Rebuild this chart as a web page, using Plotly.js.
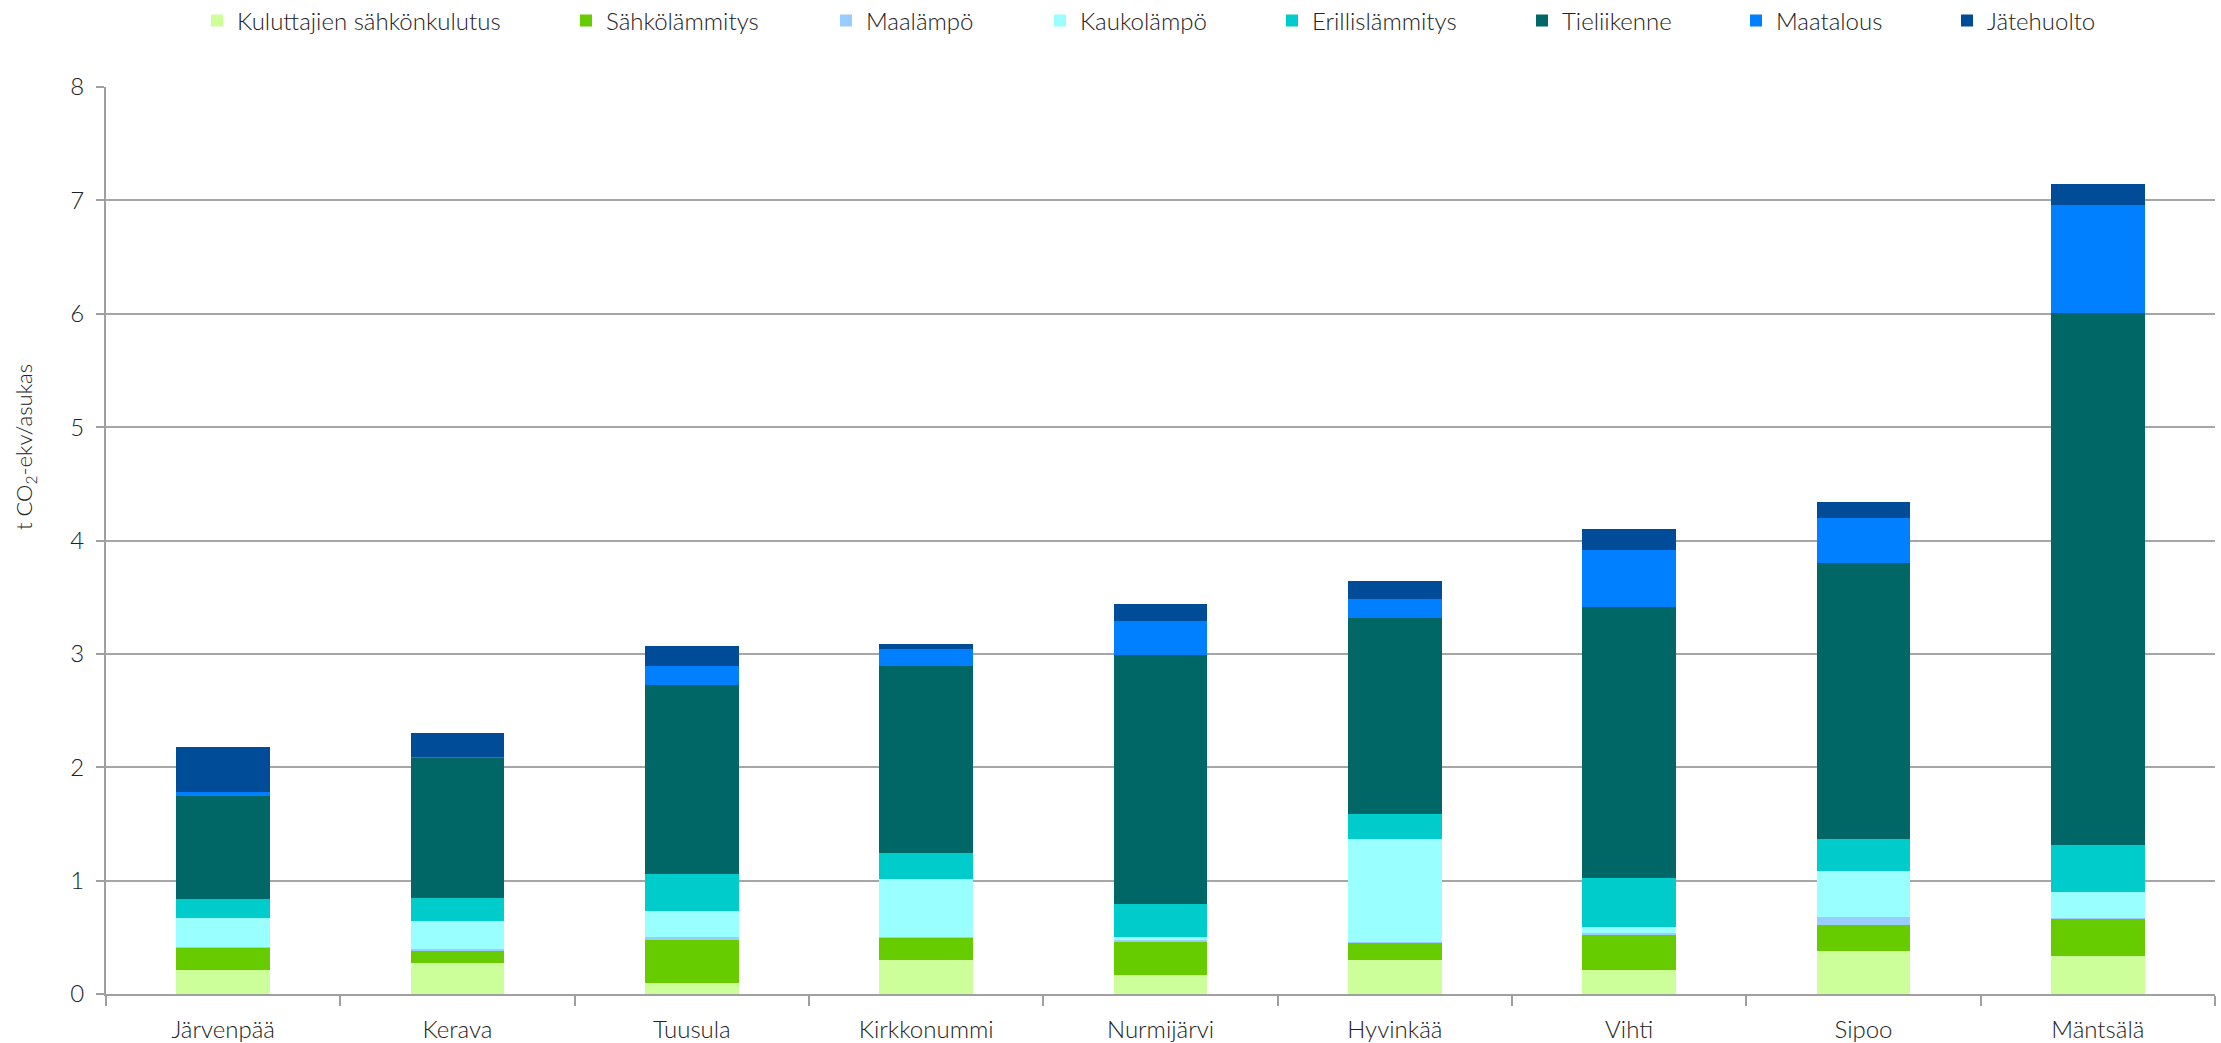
<!DOCTYPE html>
<html>
<head>
<meta charset="utf-8">
<script src="https://cdn.plot.ly/plotly-3.0.1.min.js"></script>
<style>html,body{margin:0;padding:0;background:#fff;}#chart{width:2221px;height:1043px;}</style>
</head>
<body>
<div id="chart"></div>
<script>
const categories = ["Järvenpää","Kerava","Tuusula","Kirkkonummi","Nurmijärvi","Hyvinkää","Vihti","Sipoo","Mäntsälä"];
const seriesNames = ["Kuluttajien sähkönkulutus","Sähkölämmitys","Maalämpö","Kaukolämpö","Erillislämmitys","Tieliikenne","Maatalous","Jätehuolto"];
const kuluttajienSahkonkulutus = [0.214,0.276,0.097,0.296,0.164,0.302,0.212,0.379,0.338];
const sahkolammitys            = [0.188,0.106,0.376,0.194,0.291,0.144,0.311,0.226,0.320];
const maalampo                 = [0.015,0.015,0.032,0.015,0.018,0.009,0.011,0.070,0.015];
const kaukolampo               = [0.256,0.247,0.230,0.509,0.032,0.912,0.053,0.410,0.229];
const erillislammitys          = [0.167,0.203,0.320,0.232,0.289,0.220,0.436,0.284,0.408];
const tieliikenne              = [0.909,1.239,1.670,1.643,2.195,1.731,2.390,2.432,4.701];
const maatalous                = [0.035,0.007,0.167,0.153,0.297,0.168,0.505,0.397,0.947];
const jatehuolto               = [0.394,0.209,0.179,0.047,0.156,0.161,0.185,0.143,0.188];
const yTickVals = [0,1,2,3,4,5,6,7,8];
const yTitle = "t CO<sub>2</sub>-ekv/asukas";

const seriesValues = [kuluttajienSahkonkulutus,sahkolammitys,maalampo,kaukolampo,erillislammitys,tieliikenne,maatalous,jatehuolto];
const colors = ["#ccff99","#66cc00","#99ccff","#99ffff","#00cccc","#006666","#0080ff","#004c99"];
// legend entry left positions (pixels in the page)
const legendX = [217,586,846,1060,1292,1542,1756,1967];

const FONT = "Lato, 'Open Sans', sans-serif";
const W = 2221, H = 1043, ML = 106, MR = 6, MT = 87, MB = 49;
const PW = W - ML - MR, PH = H - MT - MB;

const traces = seriesNames.map((n,i)=>({
  type:"bar", name:n, x:categories, y:seriesValues[i],
  marker:{color:colors[i], line:{width:0}},
  legend: i === 0 ? "legend" : "legend" + (i+1)
}));

const layout = {
  width:W, height:H,
  barmode:"stack", bargap:0.6,
  paper_bgcolor:"#fff", plot_bgcolor:"#fff",
  margin:{l:ML, r:MR, t:MT, b:MB, autoexpand:false},
  font:{family:FONT, size:24, color:"#222", weight:300},
  showlegend:true,
  xaxis:{type:"category", tickson:"boundaries", ticks:"outside", ticklen:10, tickcolor:"#a0a0a0", tickwidth:2,
         showline:true, linecolor:"#a0a0a0", linewidth:2, showgrid:false, automargin:false,
         ticklabelstandoff:13,
         tickfont:{family:FONT, size:24, color:"#222", weight:300}},
  yaxis:{range:[0,8], tickvals:yTickVals, ticks:"outside", ticklen:8, tickcolor:"#a0a0a0", tickwidth:2,
         showline:true, linecolor:"#a0a0a0", linewidth:2, gridcolor:"#a6a6a6", gridwidth:2,
         zeroline:false, automargin:false, ticklabelstandoff:7,
         tickfont:{family:FONT, size:24, color:"#222", weight:300}},
  annotations:[{text:yTitle, textangle:-90, xref:"paper", yref:"paper",
                x:(25-ML)/PW, y:(H-MB-447)/PH, xanchor:"center", yanchor:"middle", showarrow:false,
                font:{family:FONT, size:22, color:"#222", weight:300}}]
};

legendX.forEach((px,i)=>{
  const key = i === 0 ? "legend" : "legend" + (i+1);
  layout[key] = {orientation:"h", x:(px - 20 - ML)/PW, xanchor:"left", y:1 + (MT - 21)/PH, yanchor:"middle",
                 bgcolor:"rgba(0,0,0,0)", font:{family:FONT, size:24, color:"#222", weight:300}};
});

Plotly.newPlot("chart", traces, layout, {displayModeBar:false, staticPlot:true});
</script>
</body>
</html>
